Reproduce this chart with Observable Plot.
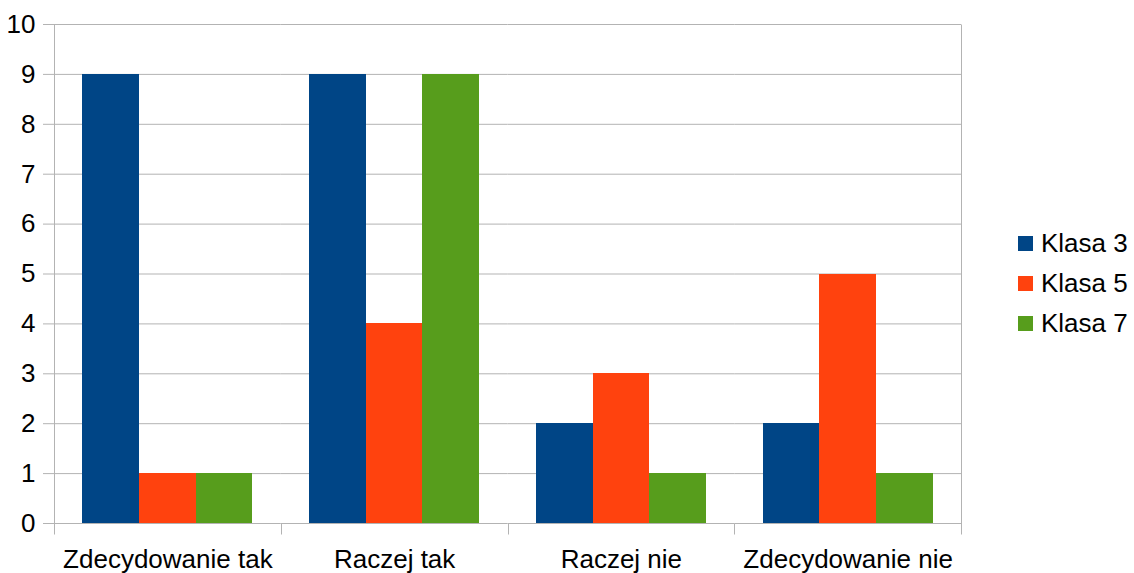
<!DOCTYPE html>
<html><head><meta charset="utf-8">
<script src="https://cdn.jsdelivr.net/npm/d3@7"></script>
<script src="https://cdn.jsdelivr.net/npm/@observablehq/plot@0.6"></script>
<style>
body{margin:0;background:#fff;font-family:"Liberation Sans",Arial,sans-serif}
#wrap{position:relative;width:1134px;height:573px}
#legend{position:absolute;left:1018px;top:223px;font-size:26px;color:#000}
.item{display:flex;align-items:center;height:40px;white-space:nowrap}
.sw{width:15px;height:15px;margin-right:8px;flex:none}
</style></head><body><div id="wrap"></div>
<script>
const categories = ["Zdecydowanie tak", "Raczej tak", "Raczej nie", "Zdecydowanie nie"];
const series = ["Klasa 3", "Klasa 5", "Klasa 7"];
const klasa3 = [9, 9, 2, 2];
const klasa5 = [1, 4, 3, 5];
const klasa7 = [1, 9, 1, 1];
const colors = ["#004586", "#ff420e", "#579d1c"];
const yTicks = [0, 1, 2, 3, 4, 5, 6, 7, 8, 9, 10];

const valuesBySeries = [klasa3, klasa5, klasa7];
const data = categories.flatMap((c, i) =>
  series.map((s, j) => ({category: c, series: s, value: valuesBySeries[j][i]})));

const font = '"Liberation Sans", Arial, sans-serif';
const plot = Plot.plot({
  width: 1134, height: 573,
  marginLeft: 54, marginRight: 173, marginTop: 24, marginBottom: 50,
  style: {fontFamily: font, fontSize: "26px", color: "#000", background: "#fff"},
  fx: {domain: categories, padding: 0, label: null, axis: null, round: false},
  x: {domain: series, paddingInner: 0, paddingOuter: 0.5, axis: null, round: false},
  y: {domain: [0, 10], label: null, axis: null},
  color: {domain: series, range: colors},
  marks: [
    Plot.gridY(yTicks, {stroke: "#b3b3b3", strokeOpacity: 1}),
    Plot.axisY(yTicks, {tickSize: 11, tickPadding: 8, tickFormat: d => String(d), stroke: "#b3b3b3", fill: "#000", fontSize: 26, label: null}),
    Plot.axisFx({anchor: "bottom", tickSize: 0, tickPadding: 26, fontSize: 26, fill: "#000", label: null}),
    Plot.barY(data, {fx: "category", x: "series", y: "value", fill: "series", shapeRendering: "crispEdges"})
  ]
});

const wrap = document.getElementById("wrap");
wrap.appendChild(plot);

// category boundary ticks and side lines, from the library's scales
const fx = plot.scale("fx"), y = plot.scale("y");
const svg = d3.select(plot);
const y0 = Math.round(y.apply(0)) + 0.5;
const yTop = Math.round(y.apply(10)) + 0.5;
const bounds = categories.map(c => fx.apply(c)).concat([fx.apply(categories[categories.length - 1]) + fx.bandwidth]);
const g = svg.append("g").attr("stroke", "#b3b3b3").attr("stroke-width", 1);
bounds.forEach((bx, i) => {
  const xx = Math.round(bx) + 0.5;
  const full = i === 0 || i === bounds.length - 1;
  g.append("line").attr("x1", xx).attr("x2", xx)
    .attr("y1", full ? yTop : y0).attr("y2", y0 + 11);
});

// legend
const legend = document.createElement("div");
legend.id = "legend";
series.forEach((s, j) => {
  const it = document.createElement("div");
  it.className = "item";
  const sw = document.createElement("div");
  sw.className = "sw";
  sw.style.background = colors[j];
  const tx = document.createElement("span");
  tx.textContent = s;
  it.appendChild(sw); it.appendChild(tx);
  legend.appendChild(it);
});
wrap.appendChild(legend);
</script>
</body></html>
